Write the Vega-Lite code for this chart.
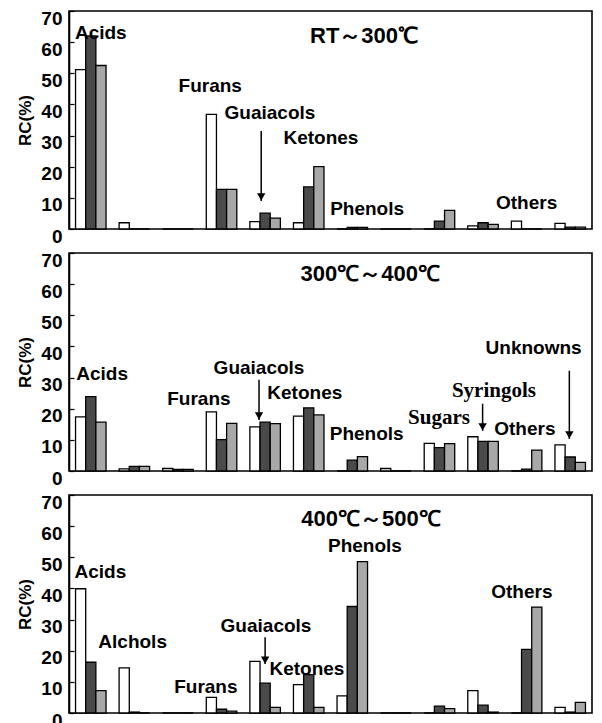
{
  "$schema": "https://vega.github.io/schema/vega-lite/v6.json",
  "padding": {"left": 16, "top": 8, "right": 7, "bottom": 0},
  "bounds": "flush",
  "spacing": 24,
  "background": "white",
  "config": {
    "view": {"stroke": "black", "strokeWidth": 1.6},
    "font": "Liberation Sans",
    "axisY": {
      "tickCount": 8,
      "labelFont": "Liberation Sans", "labelFontWeight": "bold", "labelFontSize": 19, "labelColor": "black",
      "labelOffset": 7, "labelPadding": 12, "labelOverlap": false, "labelFlush": false, "labelBound": false,
      "tickColor": "black", "tickSize": -5, "tickWidth": 1.2,
      "domainColor": "black", "domainWidth": 1.6,
      "grid": false,
      "titleFont": "Liberation Sans", "titleFontSize": 17, "titleFontWeight": "bold", "titleColor": "black", "titlePadding": 6
    }
  },
  "datasets": {
    "bars": [
      {"panel": 1, "group": "Acids", "series": "S1", "rc": 51.2},
      {"panel": 1, "group": "Acids", "series": "S2", "rc": 62},
      {"panel": 1, "group": "Acids", "series": "S3", "rc": 52.5},
      {"panel": 1, "group": "Alchols", "series": "S1", "rc": 2},
      {"panel": 1, "group": "Alchols", "series": "S2", "rc": 0},
      {"panel": 1, "group": "Alchols", "series": "S3", "rc": 0},
      {"panel": 1, "group": "Group 3", "series": "S1", "rc": 0},
      {"panel": 1, "group": "Group 3", "series": "S2", "rc": 0},
      {"panel": 1, "group": "Group 3", "series": "S3", "rc": 0},
      {"panel": 1, "group": "Furans", "series": "S1", "rc": 36.8},
      {"panel": 1, "group": "Furans", "series": "S2", "rc": 12.7},
      {"panel": 1, "group": "Furans", "series": "S3", "rc": 12.7},
      {"panel": 1, "group": "Guaiacols", "series": "S1", "rc": 2.4},
      {"panel": 1, "group": "Guaiacols", "series": "S2", "rc": 5.1},
      {"panel": 1, "group": "Guaiacols", "series": "S3", "rc": 3.5},
      {"panel": 1, "group": "Ketones", "series": "S1", "rc": 2},
      {"panel": 1, "group": "Ketones", "series": "S2", "rc": 13.5},
      {"panel": 1, "group": "Ketones", "series": "S3", "rc": 20},
      {"panel": 1, "group": "Phenols", "series": "S1", "rc": 0},
      {"panel": 1, "group": "Phenols", "series": "S2", "rc": 0.5},
      {"panel": 1, "group": "Phenols", "series": "S3", "rc": 0.5},
      {"panel": 1, "group": "Group 8", "series": "S1", "rc": 0},
      {"panel": 1, "group": "Group 8", "series": "S2", "rc": 0},
      {"panel": 1, "group": "Group 8", "series": "S3", "rc": 0},
      {"panel": 1, "group": "Sugars", "series": "S1", "rc": 0},
      {"panel": 1, "group": "Sugars", "series": "S2", "rc": 2.5},
      {"panel": 1, "group": "Sugars", "series": "S3", "rc": 6},
      {"panel": 1, "group": "Syringols", "series": "S1", "rc": 1},
      {"panel": 1, "group": "Syringols", "series": "S2", "rc": 2},
      {"panel": 1, "group": "Syringols", "series": "S3", "rc": 1.5},
      {"panel": 1, "group": "Others", "series": "S1", "rc": 2.5},
      {"panel": 1, "group": "Others", "series": "S2", "rc": 0},
      {"panel": 1, "group": "Others", "series": "S3", "rc": 0},
      {"panel": 1, "group": "Unknowns", "series": "S1", "rc": 1.8},
      {"panel": 1, "group": "Unknowns", "series": "S2", "rc": 0.6},
      {"panel": 1, "group": "Unknowns", "series": "S3", "rc": 0.6},

      {"panel": 2, "group": "Acids", "series": "S1", "rc": 17.4},
      {"panel": 2, "group": "Acids", "series": "S2", "rc": 23.9},
      {"panel": 2, "group": "Acids", "series": "S3", "rc": 15.7},
      {"panel": 2, "group": "Alchols", "series": "S1", "rc": 0.7},
      {"panel": 2, "group": "Alchols", "series": "S2", "rc": 1.5},
      {"panel": 2, "group": "Alchols", "series": "S3", "rc": 1.5},
      {"panel": 2, "group": "Group 3", "series": "S1", "rc": 0.8},
      {"panel": 2, "group": "Group 3", "series": "S2", "rc": 0.5},
      {"panel": 2, "group": "Group 3", "series": "S3", "rc": 0.5},
      {"panel": 2, "group": "Furans", "series": "S1", "rc": 19},
      {"panel": 2, "group": "Furans", "series": "S2", "rc": 10.1},
      {"panel": 2, "group": "Furans", "series": "S3", "rc": 15.3},
      {"panel": 2, "group": "Guaiacols", "series": "S1", "rc": 14.2},
      {"panel": 2, "group": "Guaiacols", "series": "S2", "rc": 15.7},
      {"panel": 2, "group": "Guaiacols", "series": "S3", "rc": 15.2},
      {"panel": 2, "group": "Ketones", "series": "S1", "rc": 17.6},
      {"panel": 2, "group": "Ketones", "series": "S2", "rc": 20.3},
      {"panel": 2, "group": "Ketones", "series": "S3", "rc": 18},
      {"panel": 2, "group": "Phenols", "series": "S1", "rc": 0},
      {"panel": 2, "group": "Phenols", "series": "S2", "rc": 3.5},
      {"panel": 2, "group": "Phenols", "series": "S3", "rc": 4.6},
      {"panel": 2, "group": "Group 8", "series": "S1", "rc": 0.8},
      {"panel": 2, "group": "Group 8", "series": "S2", "rc": 0},
      {"panel": 2, "group": "Group 8", "series": "S3", "rc": 0},
      {"panel": 2, "group": "Sugars", "series": "S1", "rc": 8.9},
      {"panel": 2, "group": "Sugars", "series": "S2", "rc": 7.5},
      {"panel": 2, "group": "Sugars", "series": "S3", "rc": 8.8},
      {"panel": 2, "group": "Syringols", "series": "S1", "rc": 11},
      {"panel": 2, "group": "Syringols", "series": "S2", "rc": 9.5},
      {"panel": 2, "group": "Syringols", "series": "S3", "rc": 9.5},
      {"panel": 2, "group": "Others", "series": "S1", "rc": 0},
      {"panel": 2, "group": "Others", "series": "S2", "rc": 0.6},
      {"panel": 2, "group": "Others", "series": "S3", "rc": 6.7},
      {"panel": 2, "group": "Unknowns", "series": "S1", "rc": 8.4},
      {"panel": 2, "group": "Unknowns", "series": "S2", "rc": 4.5},
      {"panel": 2, "group": "Unknowns", "series": "S3", "rc": 2.8},

      {"panel": 3, "group": "Acids", "series": "S1", "rc": 39.9},
      {"panel": 3, "group": "Acids", "series": "S2", "rc": 16.3},
      {"panel": 3, "group": "Acids", "series": "S3", "rc": 7.2},
      {"panel": 3, "group": "Alchols", "series": "S1", "rc": 14.5},
      {"panel": 3, "group": "Alchols", "series": "S2", "rc": 0.3},
      {"panel": 3, "group": "Alchols", "series": "S3", "rc": 0},
      {"panel": 3, "group": "Group 3", "series": "S1", "rc": 0},
      {"panel": 3, "group": "Group 3", "series": "S2", "rc": 0},
      {"panel": 3, "group": "Group 3", "series": "S3", "rc": 0},
      {"panel": 3, "group": "Furans", "series": "S1", "rc": 5},
      {"panel": 3, "group": "Furans", "series": "S2", "rc": 1.2},
      {"panel": 3, "group": "Furans", "series": "S3", "rc": 0.6},
      {"panel": 3, "group": "Guaiacols", "series": "S1", "rc": 16.6},
      {"panel": 3, "group": "Guaiacols", "series": "S2", "rc": 9.6},
      {"panel": 3, "group": "Guaiacols", "series": "S3", "rc": 1.8},
      {"panel": 3, "group": "Ketones", "series": "S1", "rc": 9.1},
      {"panel": 3, "group": "Ketones", "series": "S2", "rc": 12.3},
      {"panel": 3, "group": "Ketones", "series": "S3", "rc": 1.8},
      {"panel": 3, "group": "Phenols", "series": "S1", "rc": 5.5},
      {"panel": 3, "group": "Phenols", "series": "S2", "rc": 34.2},
      {"panel": 3, "group": "Phenols", "series": "S3", "rc": 48.6},
      {"panel": 3, "group": "Group 8", "series": "S1", "rc": 0},
      {"panel": 3, "group": "Group 8", "series": "S2", "rc": 0},
      {"panel": 3, "group": "Group 8", "series": "S3", "rc": 0},
      {"panel": 3, "group": "Sugars", "series": "S1", "rc": 0},
      {"panel": 3, "group": "Sugars", "series": "S2", "rc": 2.2},
      {"panel": 3, "group": "Sugars", "series": "S3", "rc": 1.4},
      {"panel": 3, "group": "Syringols", "series": "S1", "rc": 7.2},
      {"panel": 3, "group": "Syringols", "series": "S2", "rc": 2.5},
      {"panel": 3, "group": "Syringols", "series": "S3", "rc": 0.3},
      {"panel": 3, "group": "Others", "series": "S1", "rc": 0},
      {"panel": 3, "group": "Others", "series": "S2", "rc": 20.4},
      {"panel": 3, "group": "Others", "series": "S3", "rc": 34},
      {"panel": 3, "group": "Unknowns", "series": "S1", "rc": 1.8},
      {"panel": 3, "group": "Unknowns", "series": "S2", "rc": 0.3},
      {"panel": 3, "group": "Unknowns", "series": "S3", "rc": 3.4}
    ],
    "labels": [
      {"panel": 1, "label": "Acids", "u": 0.73, "v": 63},
      {"panel": 1, "label": "Furans", "u": 3.24, "v": 46},
      {"panel": 1, "label": "Guaiacols", "u": 4.61, "v": 37.3},
      {"panel": 1, "label": "Ketones", "u": 5.78, "v": 29.3},
      {"panel": 1, "label": "Phenols", "u": 6.84, "v": 6.5},
      {"panel": 1, "label": "Others", "u": 10.5, "v": 8.5},
      {"panel": 2, "label": "Acids", "u": 0.76, "v": 31},
      {"panel": 2, "label": "Furans", "u": 2.98, "v": 23},
      {"panel": 2, "label": "Guaiacols", "u": 4.36, "v": 33.2},
      {"panel": 2, "label": "Ketones", "u": 5.41, "v": 25},
      {"panel": 2, "label": "Phenols", "u": 6.83, "v": 12},
      {"panel": 2, "label": "Sugars", "u": 8.49, "v": 17},
      {"panel": 2, "label": "Syringols", "u": 9.75, "v": 25.8},
      {"panel": 2, "label": "Others", "u": 10.46, "v": 13.5},
      {"panel": 2, "label": "Unknowns", "u": 10.66, "v": 39.4},
      {"panel": 3, "label": "Acids", "u": 0.72, "v": 45.2},
      {"panel": 3, "label": "Alchols", "u": 1.46, "v": 22.9},
      {"panel": 3, "label": "Furans", "u": 3.14, "v": 8.2},
      {"panel": 3, "label": "Guaiacols", "u": 4.52, "v": 28},
      {"panel": 3, "label": "Ketones", "u": 5.46, "v": 14},
      {"panel": 3, "label": "Phenols", "u": 6.79, "v": 53.5},
      {"panel": 3, "label": "Others", "u": 10.39, "v": 39}
    ],
    "titles": [
      {"panel": 1, "label": "RT～300℃", "u": 6.77, "v": 62},
      {"panel": 2, "label": "300℃～400℃", "u": 6.91, "v": 63.2},
      {"panel": 3, "label": "400℃～500℃", "u": 6.93, "v": 62.4}
    ],
    "arrows": [
      {"panel": 1, "u": 4.41, "from": 31.5, "to": 9},
      {"panel": 2, "u": 4.36, "from": 29.3, "to": 16.4},
      {"panel": 2, "u": 9.49, "from": 21.6, "to": 12.9},
      {"panel": 2, "u": 11.48, "from": 32.2, "to": 10.3},
      {"panel": 3, "u": 4.5, "from": 24.3, "to": 15.7}
    ]
  },
  "vconcat": [
    {
      "width": 523, "height": 218,
      "resolve": {"scale": {"x": "independent"}},
      "layer": [
        {
          "data": {"name": "bars"}, "transform": [{"filter": "datum.panel == 1"}],
          "mark": {"type": "bar", "stroke": "black", "strokeWidth": 1.3},
          "encoding": {
            "x": {"field": "group", "type": "nominal", "sort": null, "axis": null,
                  "scale": {"domain": ["Acids","Alchols","Group 3","Furans","Guaiacols","Ketones","Phenols","Group 8","Sugars","Syringols","Others","Unknowns"], "paddingInner": 0.3, "paddingOuter": 0.15}},
            "xOffset": {"field": "series", "type": "nominal", "scale": {"domain": ["S1","S2","S3"], "paddingInner": 0, "paddingOuter": 0}},
            "y": {"field": "rc", "type": "quantitative", "scale": {"domain": [0, 70], "nice": false}, "axis": {"values": [0,10,20,30,40,50,60,70], "title": "RC(%)"}},
            "fill": {"field": "series", "type": "nominal", "legend": null, "scale": {"domain": ["S1","S2","S3"], "range": ["#ffffff", "#4a4a4a", "#a8a8a8"]}}
          }
        },
        {
          "data": {"name": "labels"}, "transform": [{"filter": "datum.panel == 1"}],
          "mark": {"type": "text", "font": "Liberation Sans", "fontWeight": "bold", "fontSize": 19, "color": "black"},
          "encoding": {
            "x": {"field": "u", "type": "quantitative", "axis": null, "scale": {"domain": [0, 12], "nice": false}},
            "y": {"field": "v", "type": "quantitative", "axis": {"values": [0,10,20,30,40,50,60,70], "title": "RC(%)"}},
            "text": {"field": "label"}
          }
        },
        {
          "data": {"name": "titles"}, "transform": [{"filter": "datum.panel == 1"}],
          "mark": {"type": "text", "font": "Liberation Sans", "fontWeight": "bold", "fontSize": 22, "color": "black"},
          "encoding": {
            "x": {"field": "u", "type": "quantitative", "axis": null, "scale": {"domain": [0, 12], "nice": false}},
            "y": {"field": "v", "type": "quantitative", "axis": {"values": [0,10,20,30,40,50,60,70], "title": "RC(%)"}},
            "text": {"field": "label"}
          }
        },
        {
          "data": {"name": "arrows"}, "transform": [{"filter": "datum.panel == 1"}],
          "mark": {"type": "rule", "color": "black", "strokeWidth": 1.5},
          "encoding": {
            "x": {"field": "u", "type": "quantitative", "axis": null, "scale": {"domain": [0, 12], "nice": false}},
            "y": {"field": "from", "type": "quantitative", "axis": {"values": [0,10,20,30,40,50,60,70], "title": "RC(%)"}},
            "y2": {"field": "to"}
          }
        },
        {
          "data": {"name": "arrows"}, "transform": [{"filter": "datum.panel == 1"}],
          "mark": {"type": "point", "shape": "triangle-down", "filled": true, "color": "black", "size": 70, "opacity": 1, "yOffset": -4},
          "encoding": {
            "x": {"field": "u", "type": "quantitative", "axis": null, "scale": {"domain": [0, 12], "nice": false}},
            "y": {"field": "to", "type": "quantitative", "axis": {"values": [0,10,20,30,40,50,60,70], "title": "RC(%)"}}
          }
        }
      ]
    },
    {
      "width": 523, "height": 218,
      "resolve": {"scale": {"x": "independent"}},
      "layer": [
        {
          "data": {"name": "bars"}, "transform": [{"filter": "datum.panel == 2"}],
          "mark": {"type": "bar", "stroke": "black", "strokeWidth": 1.3},
          "encoding": {
            "x": {"field": "group", "type": "nominal", "sort": null, "axis": null,
                  "scale": {"domain": ["Acids","Alchols","Group 3","Furans","Guaiacols","Ketones","Phenols","Group 8","Sugars","Syringols","Others","Unknowns"], "paddingInner": 0.3, "paddingOuter": 0.15}},
            "xOffset": {"field": "series", "type": "nominal", "scale": {"domain": ["S1","S2","S3"], "paddingInner": 0, "paddingOuter": 0}},
            "y": {"field": "rc", "type": "quantitative", "scale": {"domain": [0, 70], "nice": false}, "axis": {"values": [0,10,20,30,40,50,60,70], "title": "RC(%)"}},
            "fill": {"field": "series", "type": "nominal", "legend": null, "scale": {"domain": ["S1","S2","S3"], "range": ["#ffffff", "#4a4a4a", "#a8a8a8"]}}
          }
        },
        {
          "data": {"name": "labels"}, "transform": [{"filter": "datum.panel == 2 && datum.label != 'Sugars' && datum.label != 'Syringols'"}],
          "mark": {"type": "text", "font": "Liberation Sans", "fontWeight": "bold", "fontSize": 19, "color": "black"},
          "encoding": {
            "x": {"field": "u", "type": "quantitative", "axis": null, "scale": {"domain": [0, 12], "nice": false}},
            "y": {"field": "v", "type": "quantitative", "axis": {"values": [0,10,20,30,40,50,60,70], "title": "RC(%)"}},
            "text": {"field": "label"}
          }
        },
        {
          "data": {"name": "labels"}, "transform": [{"filter": "datum.panel == 2 && (datum.label == 'Sugars' || datum.label == 'Syringols')"}],
          "mark": {"type": "text", "font": "Liberation Serif", "fontWeight": "bold", "fontSize": 21, "color": "black"},
          "encoding": {
            "x": {"field": "u", "type": "quantitative", "axis": null, "scale": {"domain": [0, 12], "nice": false}},
            "y": {"field": "v", "type": "quantitative", "axis": {"values": [0,10,20,30,40,50,60,70], "title": "RC(%)"}},
            "text": {"field": "label"}
          }
        },
        {
          "data": {"name": "titles"}, "transform": [{"filter": "datum.panel == 2"}],
          "mark": {"type": "text", "font": "Liberation Sans", "fontWeight": "bold", "fontSize": 22, "color": "black"},
          "encoding": {
            "x": {"field": "u", "type": "quantitative", "axis": null, "scale": {"domain": [0, 12], "nice": false}},
            "y": {"field": "v", "type": "quantitative", "axis": {"values": [0,10,20,30,40,50,60,70], "title": "RC(%)"}},
            "text": {"field": "label"}
          }
        },
        {
          "data": {"name": "arrows"}, "transform": [{"filter": "datum.panel == 2"}],
          "mark": {"type": "rule", "color": "black", "strokeWidth": 1.5},
          "encoding": {
            "x": {"field": "u", "type": "quantitative", "axis": null, "scale": {"domain": [0, 12], "nice": false}},
            "y": {"field": "from", "type": "quantitative", "axis": {"values": [0,10,20,30,40,50,60,70], "title": "RC(%)"}},
            "y2": {"field": "to"}
          }
        },
        {
          "data": {"name": "arrows"}, "transform": [{"filter": "datum.panel == 2"}],
          "mark": {"type": "point", "shape": "triangle-down", "filled": true, "color": "black", "size": 70, "opacity": 1, "yOffset": -4},
          "encoding": {
            "x": {"field": "u", "type": "quantitative", "axis": null, "scale": {"domain": [0, 12], "nice": false}},
            "y": {"field": "to", "type": "quantitative", "axis": {"values": [0,10,20,30,40,50,60,70], "title": "RC(%)"}}
          }
        }
      ]
    },
    {
      "width": 523, "height": 218,
      "resolve": {"scale": {"x": "independent"}},
      "layer": [
        {
          "data": {"name": "bars"}, "transform": [{"filter": "datum.panel == 3"}],
          "mark": {"type": "bar", "stroke": "black", "strokeWidth": 1.3},
          "encoding": {
            "x": {"field": "group", "type": "nominal", "sort": null, "axis": null,
                  "scale": {"domain": ["Acids","Alchols","Group 3","Furans","Guaiacols","Ketones","Phenols","Group 8","Sugars","Syringols","Others","Unknowns"], "paddingInner": 0.3, "paddingOuter": 0.15}},
            "xOffset": {"field": "series", "type": "nominal", "scale": {"domain": ["S1","S2","S3"], "paddingInner": 0, "paddingOuter": 0}},
            "y": {"field": "rc", "type": "quantitative", "scale": {"domain": [0, 70], "nice": false}, "axis": {"values": [0,10,20,30,40,50,60,70], "title": "RC(%)"}},
            "fill": {"field": "series", "type": "nominal", "legend": null, "scale": {"domain": ["S1","S2","S3"], "range": ["#ffffff", "#4a4a4a", "#a8a8a8"]}}
          }
        },
        {
          "data": {"name": "labels"}, "transform": [{"filter": "datum.panel == 3"}],
          "mark": {"type": "text", "font": "Liberation Sans", "fontWeight": "bold", "fontSize": 19, "color": "black"},
          "encoding": {
            "x": {"field": "u", "type": "quantitative", "axis": null, "scale": {"domain": [0, 12], "nice": false}},
            "y": {"field": "v", "type": "quantitative", "axis": {"values": [0,10,20,30,40,50,60,70], "title": "RC(%)"}},
            "text": {"field": "label"}
          }
        },
        {
          "data": {"name": "titles"}, "transform": [{"filter": "datum.panel == 3"}],
          "mark": {"type": "text", "font": "Liberation Sans", "fontWeight": "bold", "fontSize": 22, "color": "black"},
          "encoding": {
            "x": {"field": "u", "type": "quantitative", "axis": null, "scale": {"domain": [0, 12], "nice": false}},
            "y": {"field": "v", "type": "quantitative", "axis": {"values": [0,10,20,30,40,50,60,70], "title": "RC(%)"}},
            "text": {"field": "label"}
          }
        },
        {
          "data": {"name": "arrows"}, "transform": [{"filter": "datum.panel == 3"}],
          "mark": {"type": "rule", "color": "black", "strokeWidth": 1.5},
          "encoding": {
            "x": {"field": "u", "type": "quantitative", "axis": null, "scale": {"domain": [0, 12], "nice": false}},
            "y": {"field": "from", "type": "quantitative", "axis": {"values": [0,10,20,30,40,50,60,70], "title": "RC(%)"}},
            "y2": {"field": "to"}
          }
        },
        {
          "data": {"name": "arrows"}, "transform": [{"filter": "datum.panel == 3"}],
          "mark": {"type": "point", "shape": "triangle-down", "filled": true, "color": "black", "size": 70, "opacity": 1, "yOffset": -4},
          "encoding": {
            "x": {"field": "u", "type": "quantitative", "axis": null, "scale": {"domain": [0, 12], "nice": false}},
            "y": {"field": "to", "type": "quantitative", "axis": {"values": [0,10,20,30,40,50,60,70], "title": "RC(%)"}}
          }
        }
      ]
    }
  ]
}
